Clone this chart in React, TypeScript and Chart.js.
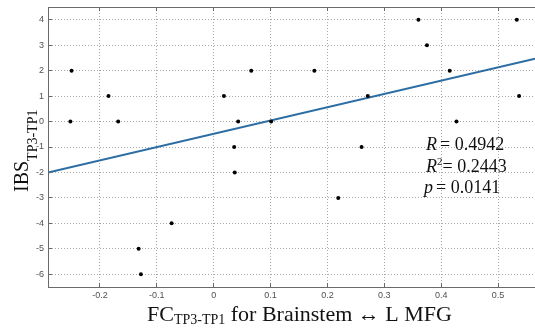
import { useEffect, useRef } from "react";
import { Chart, registerables } from "chart.js";

Chart.register(...registerables);

// FC (TP3-TP1) values and matching IBS (TP3-TP1) scores
const fcValues = [
  -0.25, -0.252, -0.185, -0.168, 0.018, 0.043, 0.066, 0.036, 0.177, 0.101, 0.271,
  0.26, 0.36, 0.375, 0.415, 0.427, 0.533, 0.537, 0.037, -0.074, -0.132, -0.128, 0.219,
];
const ibsValues = [
  2, 0, 1, 0, 1, 0, 2, -1, 2, 0, 1, -1, 4, 3, 2, 0, 4, 1, -2, -4, -5, -6, -3,
];

// regression line end points
const fitX = [-0.2914, 0.565];
const fitY = [-2.0, 2.47];

const xTicks = [-0.2, -0.1, 0, 0.1, 0.2, 0.3, 0.4, 0.5];
const yTicks = [-6, -5, -4, -3, -2, -1, 0, 1, 2, 3, 4];
const xRange = [-0.2914, 0.565];
const yRange = [-6.5, 4.5];

const statRows = [
  { sym: "R", sup: "", val: "0.4942" },
  { sym: "R", sup: "2", val: "0.2443" },
  { sym: "p", sup: "", val: "0.0141" },
];

const AXIS = "#6a6a6a";
const GRID = "#a8a8a8";
const TICK_TXT = "#505050";
const LINE_BLUE = "#2c6da4";
const SERIF = '"Liberation Serif", "Times New Roman", serif';

const overlay = {
  id: "overlay",
  afterDraw(chart: any) {
    const { ctx, chartArea: a, scales } = chart;
    const xs = scales.x;
    const ys = scales.y;
    ctx.save();
    ctx.strokeStyle = AXIS;
    ctx.lineWidth = 1;
    // top frame line
    ctx.beginPath();
    ctx.moveTo(a.left, Math.floor(a.top) + 0.5);
    ctx.lineTo(a.right, Math.floor(a.top) + 0.5);
    ctx.stroke();
    // inward tick marks
    ctx.beginPath();
    for (const v of xTicks) {
      const px = Math.floor(xs.getPixelForValue(v)) + 0.5;
      ctx.moveTo(px, a.bottom);
      ctx.lineTo(px, a.bottom - 4);
      ctx.moveTo(px, a.top);
      ctx.lineTo(px, a.top + 4);
    }
    for (const v of yTicks) {
      const py = Math.floor(ys.getPixelForValue(v)) + 0.5;
      ctx.moveTo(a.left, py);
      ctx.lineTo(a.left + 4, py);
    }
    ctx.stroke();

    ctx.fillStyle = "#111";
    ctx.textBaseline = "alphabetic";
    ctx.textAlign = "left";

    // x axis title
    {
      let x = 147;
      const base = 321;
      ctx.font = `22px ${SERIF}`;
      ctx.fillText("FC", x, base);
      x += ctx.measureText("FC").width;
      ctx.font = `14px ${SERIF}`;
      ctx.fillText("TP3-TP1", x, base + 3);
      x += ctx.measureText("TP3-TP1").width;
      ctx.font = `22px ${SERIF}`;
      ctx.fillText(" for Brainstem \u2194 L MFG", x, base);
    }

    // y axis title (rotated)
    {
      ctx.save();
      ctx.translate(28, 192);
      ctx.rotate(-Math.PI / 2);
      ctx.font = `20px ${SERIF}`;
      ctx.fillText("IBS", 0, 0);
      const w = ctx.measureText("IBS").width;
      ctx.font = `14px ${SERIF}`;
      ctx.fillText("TP3-TP1", w, 9);
      ctx.restore();
    }

    // statistics
    const startX = [426, 426, 424];
    const baselines = [150, 171.5, 193];
    statRows.forEach((r, i) => {
      let x = startX[i];
      const b = baselines[i];
      ctx.font = `italic 18px ${SERIF}`;
      ctx.fillText(r.sym, x, b);
      x += ctx.measureText(r.sym).width;
      if (r.sup) {
        ctx.font = `11px ${SERIF}`;
        ctx.fillText(r.sup, x, b - 7);
        x += ctx.measureText(r.sup).width;
      } else {
        x += 3;
      }
      ctx.font = `18px ${SERIF}`;
      ctx.fillText("= " + r.val, x, b);
    });
    ctx.restore();
  },
};

export default function App() {
  const ref = useRef<HTMLCanvasElement | null>(null);

  useEffect(() => {
    if (!ref.current) return;
    const points = fcValues.map((v, i) => ({ x: v, y: ibsValues[i] }));
    const fit = fitX.map((v, i) => ({ x: v, y: fitY[i] }));
    const chart = new Chart(ref.current, {
      type: "scatter",
      data: {
        datasets: [
          {
            data: points,
            pointRadius: 2,
            pointBackgroundColor: "#000",
            pointBorderWidth: 0,
            pointHoverRadius: 2,
          },
          {
            data: fit,
            showLine: true,
            borderColor: LINE_BLUE,
            borderWidth: 2,
            pointRadius: 0,
            pointHoverRadius: 0,
          },
        ],
      },
      options: {
        responsive: false,
        animation: false,
        devicePixelRatio: 1,
        layout: { autoPadding: false, padding: { top: 7, right: 0, left: 0, bottom: 0 } },
        plugins: {
          legend: { display: false },
          tooltip: { enabled: false },
        },
        scales: {
          x: {
            type: "linear",
            min: xRange[0],
            max: xRange[1],
            afterBuildTicks: (s: any) => {
              s.ticks = xTicks.map((v) => ({ value: v }));
            },
            afterFit: (s: any) => {
              s.height = 43;
              s.paddingLeft = 0;
              s.paddingRight = 0;
            },
            ticks: {
              callback: (v: any) => String(Math.round(Number(v) * 10) / 10),
              font: { family: '"Liberation Sans", Arial, sans-serif', size: 9 },
              color: TICK_TXT,
              padding: 3,
              maxRotation: 0,
            },
            grid: { color: GRID, drawTicks: false, lineWidth: 1 },
            border: { color: AXIS, width: 1, dash: [1, 2] },
          },
          y: {
            type: "linear",
            min: yRange[0],
            max: yRange[1],
            afterBuildTicks: (s: any) => {
              s.ticks = yTicks.map((v) => ({ value: v }));
            },
            afterFit: (s: any) => {
              s.width = 48;
              s.paddingTop = 0;
              s.paddingBottom = 0;
            },
            ticks: {
              callback: (v: any) => String(v),
              font: { family: '"Liberation Sans", Arial, sans-serif', size: 9 },
              color: TICK_TXT,
              padding: 4,
            },
            grid: { color: GRID, drawTicks: false, lineWidth: 1 },
            border: { color: AXIS, width: 1, dash: [1, 2] },
          },
        },
      },
      plugins: [overlay],
    });
    return () => chart.destroy();
  }, []);

  return (
    <div style={{ position: "absolute", left: 0, top: 0, width: 535, height: 330, background: "#fff" }}>
      <canvas ref={ref} width={535} height={330} style={{ width: 535, height: 330, display: "block" }} />
    </div>
  );
}
